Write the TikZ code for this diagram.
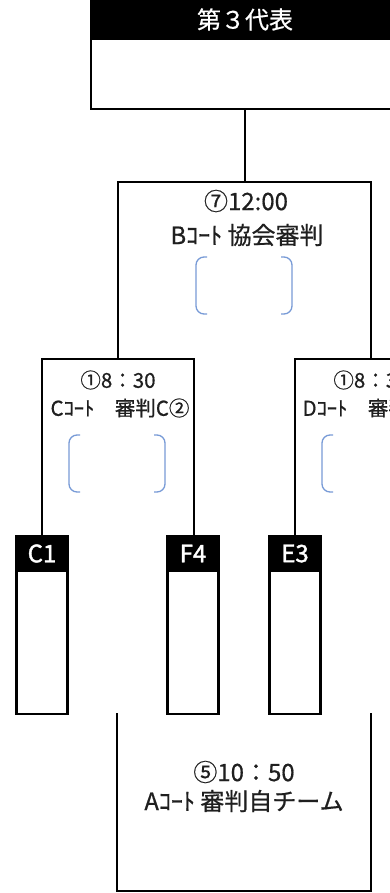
\documentclass[tikz,border=0pt]{standalone}
\usepackage{fontspec}
\setmainfont{Noto Sans CJK JP}
\newfontfamily\jpfont[FakeBold=0.6]{Noto Sans CJK JP}
\newfontfamily\jplabel[FakeBold=1.6]{Noto Sans CJK JP}
\begin{document}
\begin{tikzpicture}[x=1pt,y=-1pt,
  line width=2.3pt,
  wire/.style={draw=black,line width=2.3pt},
  headbox/.style={fill=black,draw=black,line width=2.3pt,text=white,inner sep=0pt},
  tophead/.style={headbox,font=\jpfont\fontsize{24}{26}\selectfont},
  teamhead/.style={headbox,font=\jplabel\fontsize{24}{26}\selectfont},
  whitebox/.style={draw=black,fill=white,line width=2.3pt,inner sep=0pt},
  bigtxt/.style={inner sep=0pt,text=black!88,font=\jpfont\fontsize{24}{26}\selectfont},
  smalltxt/.style={inner sep=0pt,text=black!88,font=\jpfont\fontsize{20.5}{22}\selectfont},
  brk/.style={draw={rgb,255:red,120;green,155;blue,215},line width=1.3pt,rounded corners=8pt}
]
\useasboundingbox (0,0) rectangle (390,893);
\clip (0,0) rectangle (390,893);
\fill[white] (0,0) rectangle (390,893);

% top box (third representative)
\node[whitebox,minimum width=308pt,minimum height=70pt] (tb) at (245,74) {};
\node[tophead,minimum width=308pt,minimum height=39pt] (th) at (245,19.5) {第３代表};

% B match bracket
\coordinate (bt) at (245,182);
\coordinate (bLt) at (118,182);
\coordinate (bRt) at (371,182);
\coordinate (bLb) at (118,359);
\coordinate (bRb) at (371,359);
\draw[wire] (tb.south) -- (bt);
\draw[wire] (bLb) -- (bLt) -- (bRt) -- (bRb);
\node[bigtxt] (bt1) at (246,201) {⑦12:00};
\node[bigtxt] (bt2) at (247,235) {Bｺｰﾄ 協会審判};
\draw[brk] (207,257) -- (196,257) -- (196,314) -- (207,314);
\draw[brk] (281,257) -- (292,257) -- (292,314) -- (281,314);

% C match bracket
\coordinate (cLt) at (42,359);
\coordinate (cRt) at (194,359);
\coordinate (cLb) at (42,536);
\coordinate (cRb) at (194,536);
\draw[wire] (cLb) -- (cLt) -- (cRt) -- (cRb);
\node[smalltxt] (ct1) at (118,380) {①8：30};
\node[smalltxt] (ct2) at (120,408) {Cｺｰﾄ　審判C②};
\draw[brk] (80,435) -- (69,435) -- (69,492) -- (80,492);
\draw[brk] (154,435) -- (165,435) -- (165,492) -- (154,492);

% D match bracket
\coordinate (dLt) at (295,359);
\coordinate (dRt) at (447,359);
\coordinate (dLb) at (295,536);
\coordinate (dRb) at (447,536);
\draw[wire] (dLb) -- (dLt) -- (dRt) -- (dRb);
\node[smalltxt] (dt1) at (371,380) {①8：30};
\node[smalltxt] (dt2) at (373,408) {Dｺｰﾄ　審判D②};
\draw[brk] (333,435) -- (322,435) -- (322,492) -- (333,492);
\draw[brk] (407,435) -- (418,435) -- (418,492) -- (407,492);

% team boxes
\node[whitebox,minimum width=51pt,minimum height=143pt] (c1b) at (42,642.5) {};
\node[teamhead,minimum width=51pt,minimum height=35pt] (c1) at (42,553.5) {C1};
\node[whitebox,minimum width=51pt,minimum height=143pt] (f4b) at (193,642.5) {};
\node[teamhead,minimum width=51pt,minimum height=35pt] (f4) at (193,553.5) {F4};
\node[whitebox,minimum width=51pt,minimum height=143pt] (e3b) at (295,642.5) {};
\node[teamhead,minimum width=51pt,minimum height=35pt] (e3) at (295,553.5) {E3};

% A match (bottom) bracket
\coordinate (aLt) at (117,713);
\coordinate (aRt) at (371,713);
\coordinate (aLb) at (117,891);
\coordinate (aRb) at (371,891);
\draw[wire] (aLt) -- (aLb) -- (aRb) -- (aRt);
\node[bigtxt] (at1) at (244,772) {⑤10：50};
\node[bigtxt] (at2) at (244,801) {Aｺｰﾄ 審判自チーム};
\end{tikzpicture}
\end{document}
